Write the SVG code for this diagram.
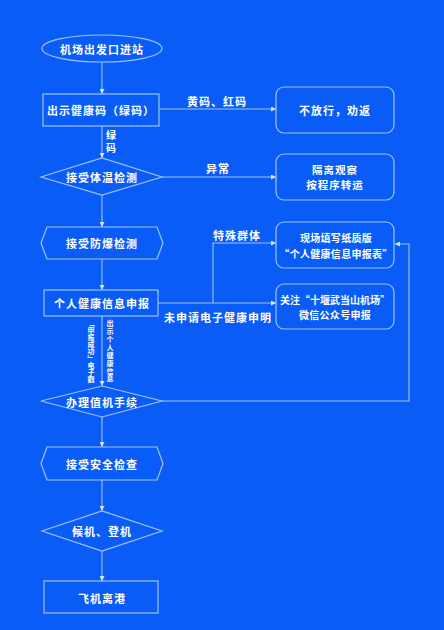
<svg xmlns="http://www.w3.org/2000/svg" width="444" height="630" viewBox="0 0 444 630">
<defs>
<style>
.bg{fill:#0a5cf6}
.sh{fill:none;stroke:#9fc2ff;stroke-width:1.2}
.ln{fill:none;stroke:#9fc2ff;stroke-width:1.1}
.t{font-family:"Noto Sans CJK SC","Noto Sans",sans-serif;font-weight:bold;fill:#ffffff;font-size:11px;letter-spacing:1px;text-anchor:middle;dominant-baseline:central}
.s{font-size:10px;letter-spacing:0.3px}
.v{font-family:"Noto Sans CJK SC","Noto Sans",sans-serif;font-weight:bold;fill:#ffffff;font-size:7px;writing-mode:vertical-rl;text-orientation:upright;text-anchor:start}
</style>
<marker id="ah" viewBox="0 0 10 10" refX="10" refY="5" markerWidth="5" markerHeight="5" markerUnits="userSpaceOnUse" orient="auto">
<path d="M0,0 L10,5 L0,10 z" fill="#d6e4ff"/>
</marker>
</defs>
<rect class="bg" x="0" y="0" width="444" height="630"/>

<g id="connectors">
<line class="ln" x1="102" y1="62" x2="102" y2="94" marker-end="url(#ah)"/>
<line class="ln" x1="159" y1="109" x2="276" y2="109" marker-end="url(#ah)"/>
<line class="ln" x1="102" y1="126" x2="102" y2="158" marker-end="url(#ah)"/>
<line class="ln" x1="162" y1="177" x2="276" y2="177" marker-end="url(#ah)"/>
<line class="ln" x1="102" y1="195" x2="102" y2="227" marker-end="url(#ah)"/>
<line class="ln" x1="102" y1="259" x2="102" y2="290" marker-end="url(#ah)"/>
<line class="ln" x1="158" y1="303" x2="276" y2="303" marker-end="url(#ah)"/>
<polyline class="ln" points="213,303 213,243 276,243" marker-end="url(#ah)"/>
<line class="ln" x1="102" y1="316" x2="102" y2="386" marker-end="url(#ah)"/>
<polyline class="ln" points="162,401 409,401 409,244 395,244" marker-end="url(#ah)"/>
<line class="ln" x1="102" y1="417" x2="102" y2="447" marker-end="url(#ah)"/>
<line class="ln" x1="102" y1="480" x2="102" y2="511" marker-end="url(#ah)"/>
<line class="ln" x1="102" y1="551" x2="102" y2="581" marker-end="url(#ah)"/>
<text class="t" x="217" y="101">黄码、红码</text>
<text class="t" x="218" y="168">异常</text>
<text class="t" x="237" y="235">特殊群体</text>
<text class="t" x="218" y="317">未申请电子健康申明</text>
<text class="v" x="111" y="130" style="font-size:10px;letter-spacing:3px">绿码</text>
<text class="v" x="91" y="320">「申报成功」电子戳</text>
<text class="v" x="110" y="320" style="letter-spacing:0.9px">出示个人健康信息</text>
</g>

<g id="start">
<ellipse class="sh" cx="102" cy="48.5" rx="60" ry="13.5"/>
<text class="t" x="102" y="48.5">机场出发口进站</text>
</g>
<g id="show-code">
<rect class="sh" x="43" y="94" width="116" height="32"/>
<text class="t" x="101" y="110">出示健康码（绿码）</text>
</g>
<g id="reject">
<rect class="sh" x="276" y="87" width="118" height="46" rx="8"/>
<text class="t" x="335" y="110">不放行，劝返</text>
</g>
<g id="temp-check">
<polygon class="sh" points="41,177 102,158 162,177 102,195"/>
<text class="t" x="102" y="177">接受体温检测</text>
</g>
<g id="isolate">
<rect class="sh" x="276" y="154" width="118" height="46" rx="8"/>
<text class="t" x="335" y="169" style="font-size:10.5px">隔离观察</text>
<text class="t" x="335" y="184" style="font-size:10.5px">按程序转运</text>
</g>
<g id="explosive-check">
<polygon class="sh" points="41,243 47,227 157,227 163,243 157,259 47,259"/>
<text class="t" x="102" y="242.5">接受防爆检测</text>
</g>
<g id="paper-form">
<rect class="sh" x="276" y="222" width="118" height="46" rx="8"/>
<text class="t s" x="336" y="237.5">现场填写纸质版</text>
<text class="t s" x="336" y="253">“个人健康信息申报表”</text>
</g>
<g id="health-report">
<rect class="sh" x="44" y="290" width="114" height="26"/>
<text class="t" x="102" y="303">个人健康信息申报</text>
</g>
<g id="wechat">
<rect class="sh" x="276" y="284" width="118" height="45" rx="8"/>
<text class="t s" x="335" y="299" style="letter-spacing:0px">关注“十堰武当山机场”</text>
<text class="t s" x="335" y="314">微信公众号申报</text>
</g>
<g id="checkin">
<polygon class="sh" points="41,401 102,386 162,401 102,417"/>
<text class="t" x="102" y="402">办理值机手续</text>
</g>
<g id="security">
<polygon class="sh" points="41,463.5 47,447 157,447 163,463.5 157,480 47,480"/>
<text class="t" x="102" y="464">接受安全检查</text>
</g>
<g id="boarding">
<polygon class="sh" points="42,531 102,511 162,531 102,551"/>
<text class="t" x="102" y="531">候机、登机</text>
</g>
<g id="depart">
<rect class="sh" x="44" y="581" width="114" height="32"/>
<text class="t" x="102" y="598">飞机离港</text>
</g>
</svg>
